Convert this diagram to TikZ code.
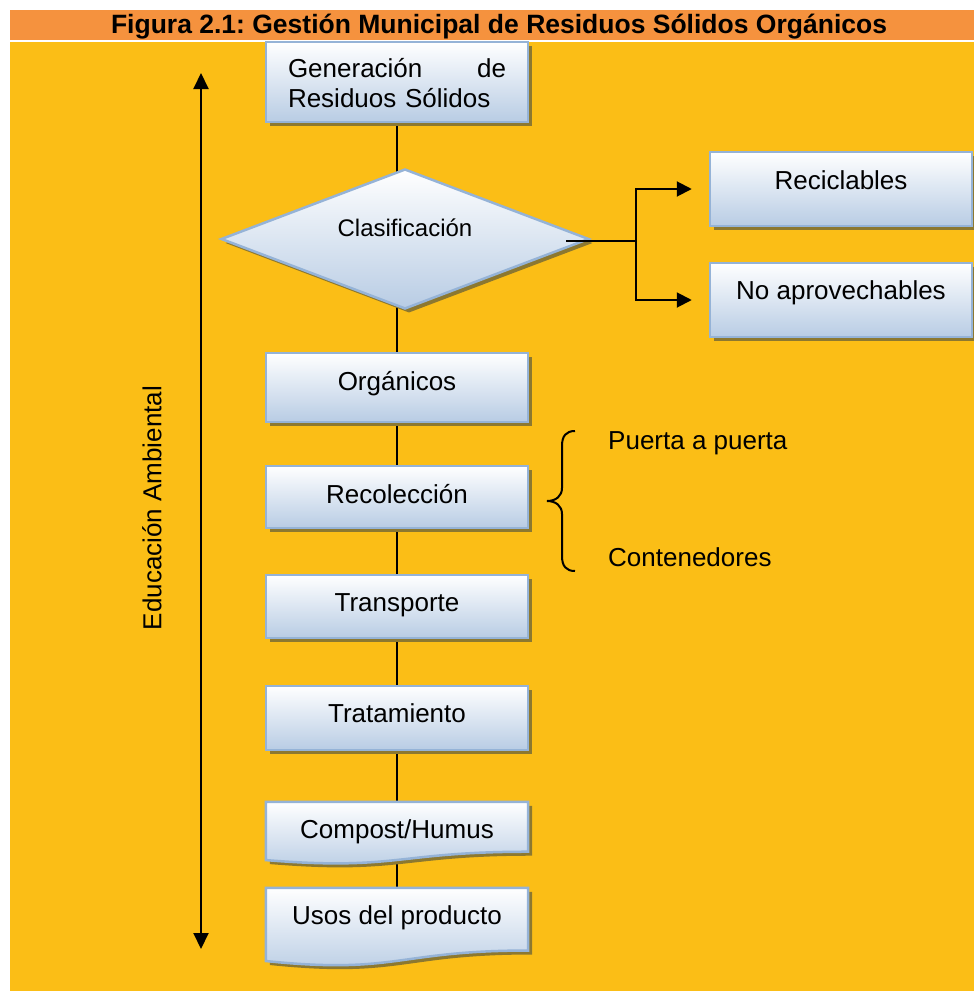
\documentclass[tikz,border=0pt]{standalone}
\usepackage{fontspec}
\setmainfont{Liberation Sans}
\usetikzlibrary{shapes.geometric,shadows,arrows.meta,calc}
\frenchspacing

\definecolor{bandorange}{RGB}{245,146,62}
\definecolor{panelyellow}{RGB}{251,190,22}
\definecolor{boxblue}{RGB}{184,204,228}
\definecolor{boxedge}{RGB}{149,179,215}
\definecolor{boxshadow}{RGB}{140,120,48}

\pgfdeclarelayer{panel}
\pgfdeclarelayer{links}
\pgfdeclarelayer{sheets}
\pgfsetlayers{panel,links,sheets,main}

% outline of a "document" box: flat top, wavy bottom
\newcommand\docoutline[1]{(#1.north west) -- (#1.north east) -- ($(#1.north east)!0.80!(#1.south east)$) .. controls ($(#1.north)!0.80!(#1.south)$) and ($(#1.north)!1.107!(#1.south)$) .. ($(#1.north west)!0.934!(#1.south west)$) -- cycle}

\tikzset{
  lblfont/.style={font=\fontsize{26}{30}\selectfont},
  boxfill/.style={draw=boxedge, line width=2.5pt, top color=white, bottom color=boxblue},
  boxshade/.style={drop shadow={opacity=1, fill=boxshadow, shadow xshift=4pt, shadow yshift=-4pt}},
  flowbox/.style={rectangle, boxfill, boxshade, minimum width=262pt, inner sep=0pt,
    text height=18.7pt, text depth=0pt, lblfont},
  docbox/.style={rectangle, minimum width=262pt, inner sep=0pt,
    text height=18.7pt, text depth=0pt, lblfont},
  link/.style={draw=black, line width=2pt},
  sidetip/.tip={Triangle[width=15pt,length=15pt]},
  axistip/.tip={Triangle[width=15pt,length=16pt]},
  sidetext/.style={lblfont, inner sep=0pt},
}

\begin{document}
\begin{tikzpicture}[x=1pt,y=-1pt]
\useasboundingbox (0,0) rectangle (974,991);

% background panels
\begin{pgfonlayer}{panel}
  \fill[panelyellow] (10,41.5) rectangle (974,991);
  \fill[bandorange] (10,10) rectangle (974,39.5);
\end{pgfonlayer}

\node[anchor=base, inner sep=0pt, font=\fontsize{26.5}{30}\bfseries] (title) at (499,33)
  {Figura 2.1: Gestión Municipal de Residuos Sólidos Orgánicos};

% main flow
\node[flowbox, minimum height=80pt, text width=218pt, align=left, text height={}, text depth={}]
  (gen) at (397,82) {\rule{0pt}{22pt}Generación\hfill de\\Residuos Sólidos};

\node[diamond, aspect=2.6, boxfill, boxshade, minimum width=368pt, minimum height=140pt, inner sep=0pt,
  font=\fontsize{24}{28}\selectfont, text height=17pt, text depth=0pt]
  (diam) at (405,239) {\raisebox{11pt}{Clasificación}};

\node[flowbox, minimum height=74pt] (recic) at (841,189) {\raisebox{9pt}{Reciclables}};
\node[flowbox, minimum height=74pt] (noap) at (841,300) {\raisebox{10pt}{No aprovechables}};

\node[flowbox, minimum height=69pt] (org) at (397,387.5) {\raisebox{6pt}{Orgánicos}};
\node[flowbox, minimum height=62pt] (recol) at (397,497) {\raisebox{3pt}{Recolección}};
\node[flowbox, minimum height=63pt] (transp) at (397,606.5) {\raisebox{4pt}{Transporte}};
\node[flowbox, minimum height=64pt] (trat) at (397,718) {\raisebox{5pt}{Tratamiento}};

\node[docbox, minimum height=62pt] (compost) at (397,833) {\raisebox{4pt}{Compost/Humus}};
\node[docbox, minimum height=78pt] (usos) at (397,927) {\raisebox{12pt}{Usos del producto}};

% wavy document boxes
\begin{pgfonlayer}{sheets}
  \begin{scope}[transform canvas={xshift=4pt,yshift=-4pt}]
    \fill[boxshadow] \docoutline{compost};
    \fill[boxshadow] \docoutline{usos};
  \end{scope}
  \path[boxfill] \docoutline{compost};
  \path[boxfill] \docoutline{usos};
\end{pgfonlayer}

% spine connectors
\begin{pgfonlayer}{links}
  \draw[link] (gen.center) -- (gen.center |- diam.center);
  \draw[link] (org.center |- diam.center) -- (org.center);
  \draw[link] (org.center) -- (recol.center);
  \draw[link] (recol.center) -- (transp.center);
  \draw[link] (transp.center) -- (trat.center);
  \draw[link] (trat.center) -- (compost.center);
  \draw[link] (compost.center) -- (usos.center);
\end{pgfonlayer}

% branch to the side boxes
\coordinate (split) at (636,241);
\draw[link] ([xshift=-24pt]diam.east |- split) -- (split);
\draw[link,-sidetip] (split) |- ([xshift=-17pt]recic.west);
\draw[link,-sidetip] (split) |- ([xshift=-17pt]noap.west);

% collection modes
\node[sidetext, anchor=base west] (puerta) at (608,449) {Puerta a puerta};
\node[sidetext, anchor=base west] (conten) at (608,566) {Contenedores};
\draw[link] (575,431) .. controls (566,431) and (562,436) .. (562,446) -- (562,488)
  .. controls (562,496) and (556,501) .. (547,501)
  .. controls (556,501) and (562,506) .. (562,514) -- (562,556)
  .. controls (562,566) and (566,571) .. (575,571);

% environmental education axis
\coordinate (edtop) at (201,73);
\coordinate (edbot) at (201,949);
\draw[link,axistip-axistip] (edtop) -- (edbot);
\node[sidetext, rotate=90] (edu) at (152,508) {Educación Ambiental};

\end{tikzpicture}
\end{document}
